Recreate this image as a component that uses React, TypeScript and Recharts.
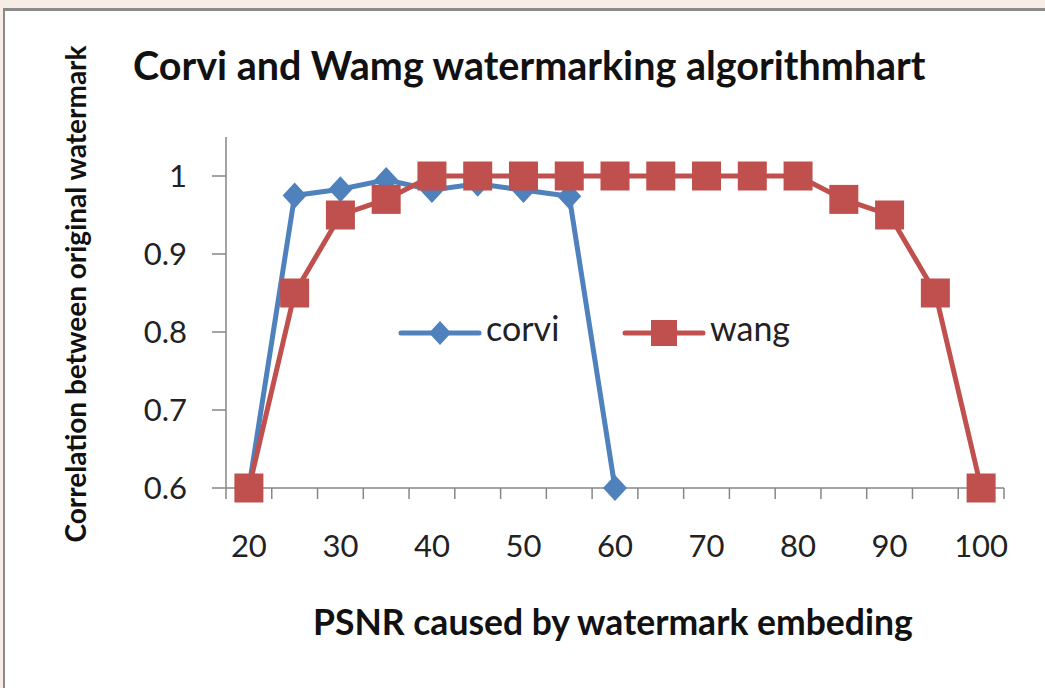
import React from 'react'
import { LineChart, Line, XAxis, YAxis } from 'recharts'

// PSNR categories (x) and correlation values
const psnr = [20, 25, 30, 35, 40, 45, 50, 55, 60, 65, 70, 75, 80, 85, 90, 95, 100]
const corvi = [0.6, 0.975, 0.983, 0.995, 0.982, 0.99, 0.982, 0.974, 0.6]
const wang = [0.6, 0.85, 0.95, 0.97, 1, 1, 1, 1, 1, 1, 1, 1, 1, 0.97, 0.95, 0.85, 0.6]
const xLabels = [20, 30, 40, 50, 60, 70, 80, 90, 100]
const yTicks = [0.6, 0.7, 0.8, 0.9, 1]

const BLUE = '#4F81BD'
const RED = '#C0504D'
const AXIS = '#868686'
const FONT = 'Lato, "Open Sans", sans-serif'

const data = psnr.map((x, i) => ({ psnr: x, corvi: i < corvi.length ? corvi[i] : null, wang: wang[i] }))
// Excel-style tick marks sit between categories
const half = (psnr[1] - psnr[0]) / 2
const minorTicks = [...psnr.map((x) => x - half), psnr[psnr.length - 1] + half]
const xDomain = [psnr[0] - half, psnr[psnr.length - 1] + half]

const Diamond = (p: any) => {
  const { cx, cy, index } = p
  if (cx == null || cy == null || p.value == null) return <g key={`d${index}`} />
  return <path key={`d${index}`} d={`M${cx},${cy - 13}L${cx + 12},${cy}L${cx},${cy + 13}L${cx - 12},${cy}Z`} fill={BLUE} />
}

const Square = (p: any) => {
  const { cx, cy, index } = p
  if (cx == null || cy == null) return <g key={`s${index}`} />
  return <rect key={`s${index}`} x={cx - 14.5} y={cy - 14.5} width={29} height={29} fill={RED} />
}

const legendText: React.CSSProperties = { position: 'absolute', top: 311, fontFamily: FONT, fontSize: 34, lineHeight: 1, color: '#222', whiteSpace: 'nowrap' }

export default function App() {
  return (
    <div style={{ position: 'absolute', left: 0, top: 0, width: 1045, height: 688, overflow: 'hidden', background: '#f8ece6' }}>
      <div style={{ position: 'absolute', left: 3, top: 8, width: 1100, height: 720, background: '#fff', borderLeft: '2px solid #8a8a8a', borderTop: '3px solid #8a8a8a' }} />
      <div style={{ position: 'absolute', left: 0, top: 0 }}>
        <LineChart width={1045} height={688} data={data} margin={{ top: 137, right: 41, bottom: 140, left: 166 }}>
          <XAxis
            xAxisId={0}
            type="number"
            dataKey="psnr"
            domain={xDomain}
            ticks={minorTicks}
            interval={0}
            height={1}
            tickFormatter={() => ''}
            tickSize={11}
            axisLine={{ stroke: AXIS, strokeWidth: 1.5 }}
            tickLine={{ stroke: AXIS, strokeWidth: 1.5 }}
          />
          <XAxis
            xAxisId={1}
            type="number"
            dataKey="psnr"
            domain={xDomain}
            ticks={xLabels}
            interval={0}
            height={59}
            axisLine={false}
            tickLine={false}
            tickSize={0}
            tickMargin={46}
            tick={{ fill: '#222', fontSize: 31, fontFamily: FONT }}
          />
          <YAxis
            type="number"
            domain={[0.6, 1.05]}
            ticks={yTicks}
            interval={0}
            width={60}
            tickSize={14}
            tickMargin={25}
            tickFormatter={(v: number) => (v === 1 ? '1' : v.toFixed(1))}
            axisLine={{ stroke: AXIS, strokeWidth: 1.5 }}
            tickLine={{ stroke: AXIS, strokeWidth: 1.5 }}
            tick={{ fill: '#222', fontSize: 31, fontFamily: FONT }}
          />
          <Line xAxisId={1} type="linear" dataKey="corvi" stroke={BLUE} strokeWidth={5} dot={Diamond} activeDot={false} isAnimationActive={false} />
          <Line xAxisId={1} type="linear" dataKey="wang" stroke={RED} strokeWidth={5} dot={Square} activeDot={false} isAnimationActive={false} />
        </LineChart>
      </div>

      {/* legend, drawn inside the plot as in the original */}
      <svg style={{ position: 'absolute', left: 398, top: 318 }} width={84} height={30}>
        <line x1={3} y1={15} x2={81} y2={15} stroke={BLUE} strokeWidth={5} strokeLinecap="round" />
        <path d="M42,3L53,15L42,27L31,15Z" fill={BLUE} />
      </svg>
      <div style={{ ...legendText, left: 486 }}>corvi</div>
      <svg style={{ position: 'absolute', left: 622, top: 318 }} width={84} height={30}>
        <line x1={3} y1={15} x2={81} y2={15} stroke={RED} strokeWidth={5} strokeLinecap="round" />
        <rect x={29} y={2} width={26} height={26} fill={RED} />
      </svg>
      <div style={{ ...legendText, left: 710 }}>wang</div>

      <div style={{ position: 'absolute', left: 133, top: 45, fontFamily: FONT, fontWeight: 700, fontSize: 39.5, lineHeight: 1, color: '#111', whiteSpace: 'nowrap' }}>
        Corvi and Wamg watermarking algorithmhart
      </div>
      <div style={{ position: 'absolute', left: 313, top: 604, fontFamily: FONT, fontWeight: 700, fontSize: 35.5, lineHeight: 1, color: '#111', whiteSpace: 'nowrap' }}>
        PSNR caused by watermark embeding
      </div>
      <div style={{ position: 'absolute', left: 75, top: 294, transform: 'translate(-50%, -50%) rotate(-90deg)', fontFamily: FONT, fontWeight: 700, fontSize: 28, lineHeight: 1, color: '#111', whiteSpace: 'nowrap' }}>
        Correlation between original watermark
      </div>
    </div>
  )
}
